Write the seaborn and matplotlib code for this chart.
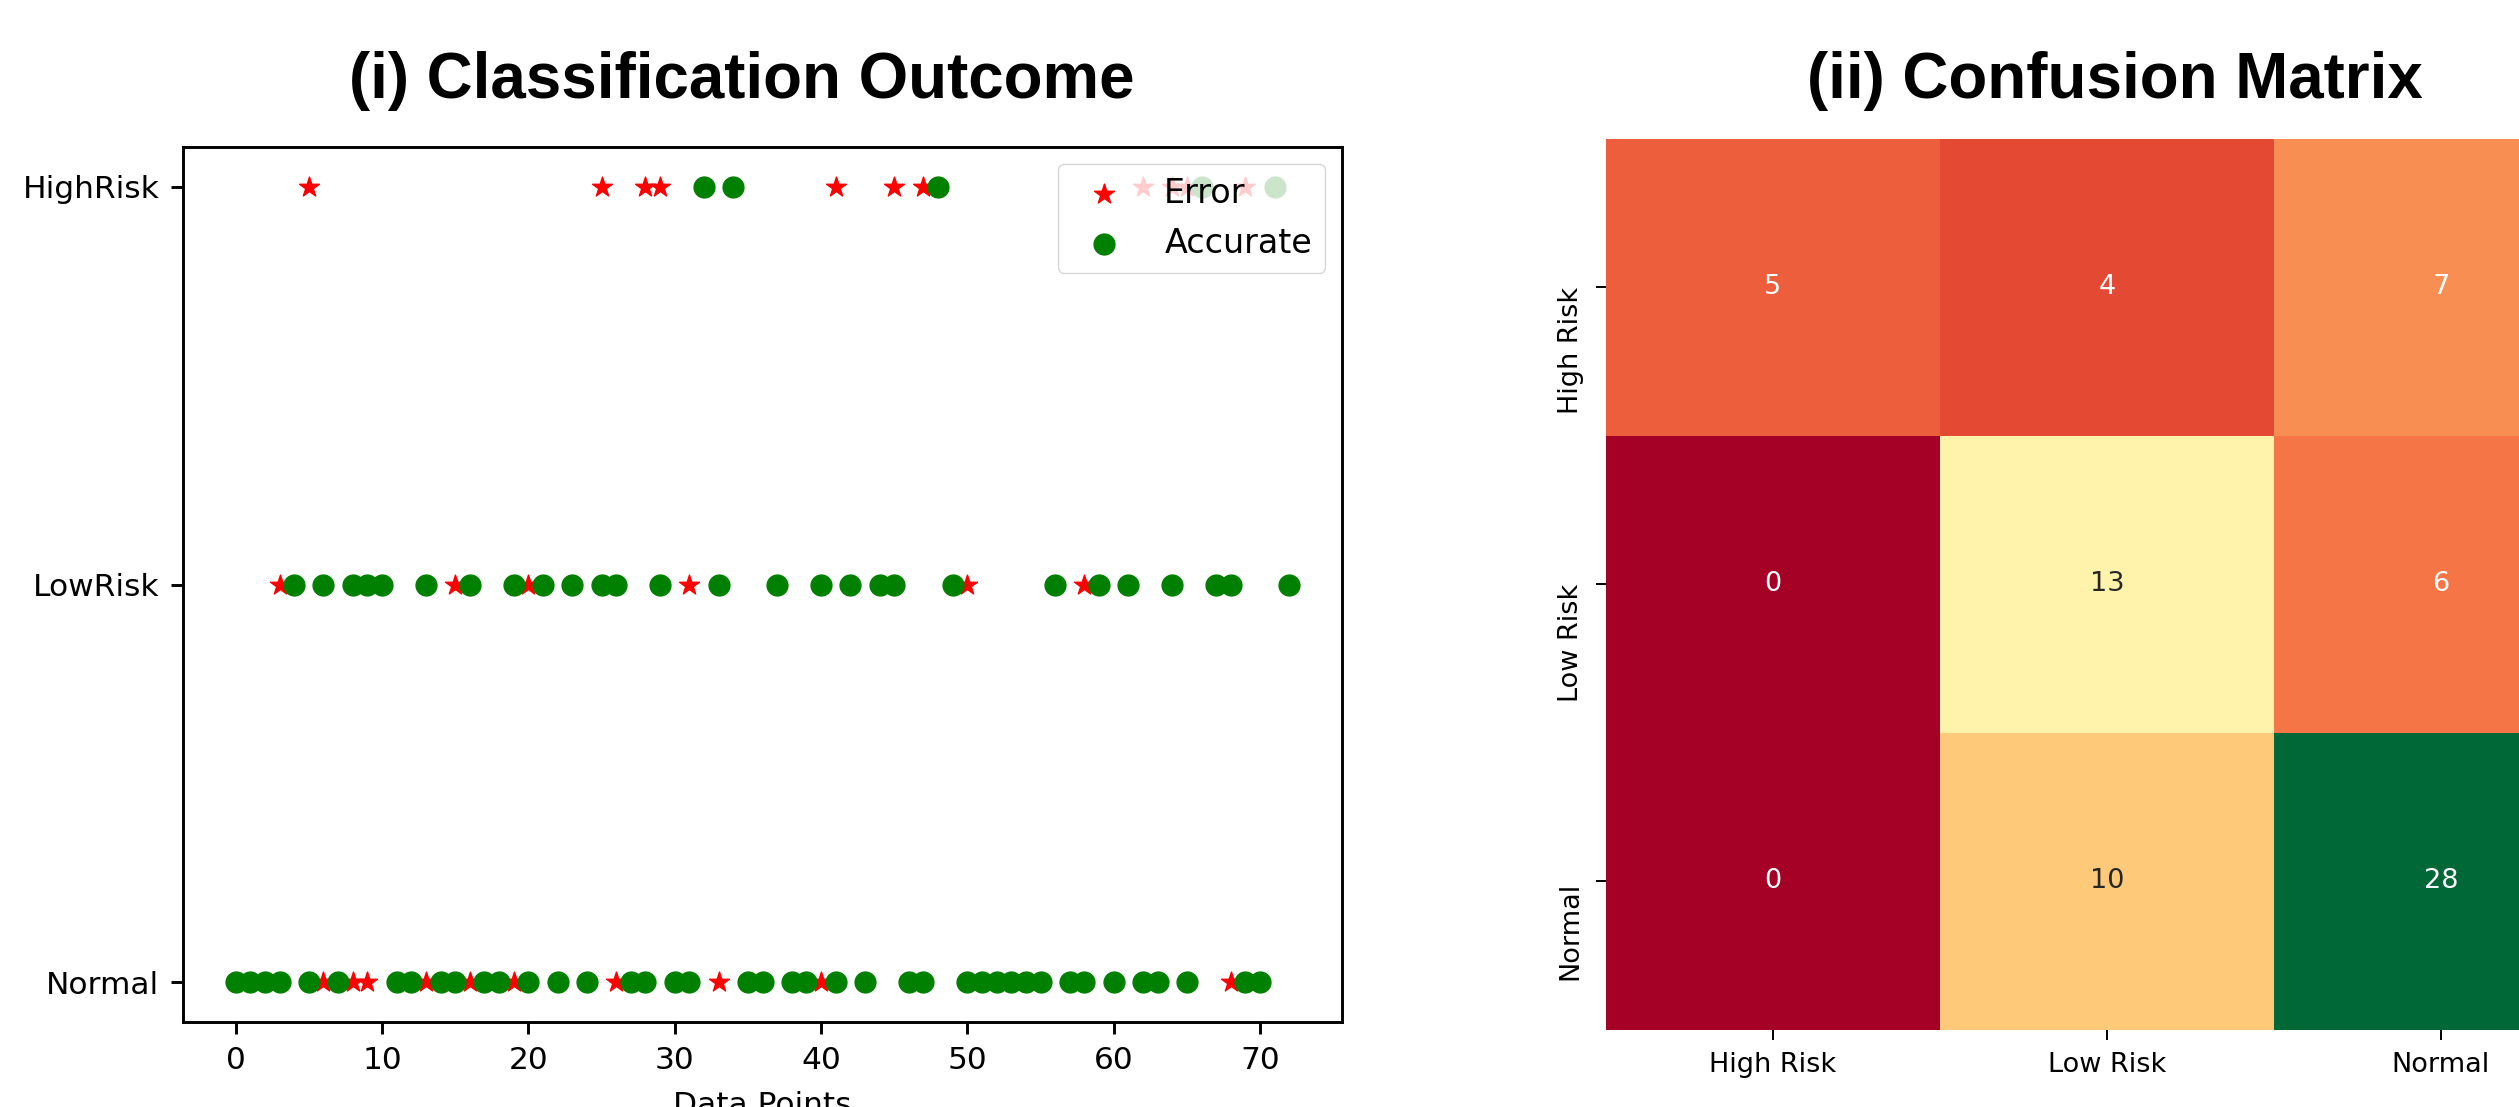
import matplotlib
matplotlib.use("Agg")
import matplotlib.pyplot as plt
import numpy as np
import seaborn as sns

# ---- data -------------------------------------------------------------
class_names = ["Normal", "LowRisk", "HighRisk"]          # y codes 0, 1, 2

# predicted class of every sample (0 = Normal, 1 = LowRisk, 2 = HighRisk)
predicted_class = [0, 0, 0, 0, 1, 0, 1, 0, 1, 1,
                   1, 0, 0, 1, 0, 0, 1, 0, 0, 1,
                   0, 1, 0, 1, 0, 1, 1, 0, 0, 1,
                   0, 0, 2, 1, 2, 0, 0, 1, 0, 0,
                   1, 0, 1, 0, 1, 1, 0, 0, 2, 1,
                   0, 0, 0, 0, 0, 0, 1, 0, 0, 1,
                   0, 1, 0, 0, 1, 0, 2, 1, 1, 0,
                   0, 2, 1]

# misclassified samples and their true class
error_index = [3, 5, 6, 8, 9, 13, 15, 16, 19, 20, 25, 26, 28, 29, 31,
               33, 40, 41, 45, 47, 50, 58, 62, 64, 65, 68, 69]
error_true = [1, 2, 0, 0, 0, 0, 1, 0, 0, 1, 2, 0, 2, 2, 1,
              0, 0, 2, 2, 2, 1, 1, 2, 2, 2, 0, 2]

cm_labels = ["High Risk", "Low Risk", "Normal"]
cm_values = [[5, 4, 7],
             [0, 13, 6],
             [0, 10, 28]]

# ---- figure -----------------------------------------------------------
W, H = 2519, 1107
fig = plt.figure(figsize=(W / 100, H / 100), dpi=100)

tick_fs = 22.5
plt.rcParams.update({
    "axes.linewidth": 2.1,
    "xtick.major.size": 8.5, "ytick.major.size": 8.5,
    "xtick.major.width": 2.1, "ytick.major.width": 2.1,
    "xtick.major.pad": 8.5, "ytick.major.pad": 8.5,
})


def px_axes(left, top, right, bottom):
    return fig.add_axes([left / W, 1 - bottom / H, (right - left) / W, (bottom - top) / H])


# (i) classification outcome scatter
ax1 = px_axes(183, 147, 1342, 1022)
x_all = np.arange(len(predicted_class))
sns.scatterplot(x=error_index, y=error_true, marker="*", color="red",
                edgecolor="red", linewidth=1, s=225, label="Error", ax=ax1, zorder=2)
sns.scatterplot(x=x_all, y=predicted_class, marker="o", color="green",
                edgecolor="green", linewidth=1, s=225, label="Accurate", ax=ax1, zorder=3)
ax1.set_yticks([0, 1, 2])
ax1.set_yticklabels(class_names)
ax1.set_xticks(np.arange(0, 71, 10))
ax1.set_xlim(-3.6, 75.6)
ax1.set_ylim(-0.1, 2.1)
ax1.tick_params(labelsize=tick_fs)
ax1.set_xlabel("Data Points", fontsize=tick_fs, labelpad=12)
ax1.set_ylabel("")
ax1.legend(loc="upper right", fontsize=24, framealpha=0.8)

# (ii) confusion matrix heatmap
ax2 = px_axes(1606, 138.5, 2608, 1030)
sns.heatmap(np.array(cm_values), annot=True, fmt="d", cmap="RdYlGn",
            vmin=0, vmax=28, cbar=False, xticklabels=cm_labels,
            yticklabels=cm_labels, annot_kws={"size": 19.5}, ax=ax2)
ax2.tick_params(labelsize=19.5, length=7.5, width=1.4)
plt.setp(ax2.get_yticklabels(), rotation=90, va="top")
plt.setp(ax2.get_xticklabels(), rotation=0)

# panel titles
title_font = dict(family=["Liberation Sans", "DejaVu Sans"], fontsize=45.8,
                  fontweight="bold", ha="center", va="baseline")
fig.text(742 / W, 1 - 98 / H, "(i) Classification Outcome", **title_font)
fig.text(2115 / W, 1 - 98 / H, "(ii) Confusion Matrix", **title_font)

fig.savefig("out.png", dpi=100)
